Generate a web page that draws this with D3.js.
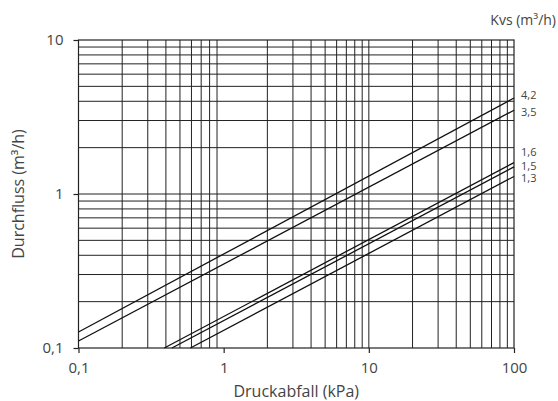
<!DOCTYPE html>
<html><head><meta charset="utf-8">
<script src="https://cdn.jsdelivr.net/npm/d3@7"></script>
<style>
html,body{margin:0;padding:0;background:#fff;}
text{font-family:"Open Sans","Noto Sans",sans-serif;fill:#444;}
</style></head>
<body>
<svg id="chart" width="558" height="401"></svg>
<script>
// Data (line endpoints on log-log axes)
const kvsLabels = ["4,2", "3,5", "1,6", "1,5", "1,3"];
const startDp = [0.1, 0.1, 0.39, 0.44, 0.59];   // kPa
const startQ  = [0.127, 0.111, 0.1, 0.1, 0.1];   // m³/h
const endDp   = [100, 100, 100, 100, 100];       // kPa
const endQ    = [4.2, 3.5, 1.6, 1.5, 1.3];       // m³/h
const labelQ  = [4.39, 3.41, 1.87, 1.52, 1.27];  // label anchor positions (m³/h)
const xTickValues = [0.1, 1, 10, 100];
const xTickLabels = ["0,1", "1", "10", "100"];
const yTickValues = [0.1, 1, 10];
const yTickLabels = ["0,1", "1", "10"];
const xGridValues = [0.2,0.3,0.4,0.5,0.6,0.7,0.8,0.9,2,3,4,5,6,7,8,9,10,20,30,40,50,60,70,80,90];
const yGridValues = [0.2,0.3,0.4,0.5,0.6,0.7,0.8,0.9,1,2,3,4,5,6,7,8,9];

const svg = d3.select("#chart");
const L = 78.5, R = 514, T = 40, B = 348;
const x = d3.scaleLog().domain([0.1, 100]).range([L, R]);
const y = d3.scaleLog().domain([0.1, 10]).range([B, T]);
const ink = "#222";
const font = "'Open Sans', 'Noto Sans', sans-serif";

const g = svg.append("g");
// grid
g.selectAll(".vg").data(xGridValues).join("line")
  .attr("x1", d => x(d)).attr("x2", d => x(d)).attr("y1", T).attr("y2", B)
  .attr("stroke", ink).attr("stroke-width", 1);
g.selectAll(".hg").data(yGridValues).join("line")
  .attr("x1", L).attr("x2", R).attr("y1", d => y(d)).attr("y2", d => y(d))
  .attr("stroke", ink).attr("stroke-width", 1);
// frame
g.append("rect").attr("x", L).attr("y", T).attr("width", R - L).attr("height", B - T)
  .attr("fill", "none").attr("stroke", ink).attr("stroke-width", 1.2);

// axes
const xAxis = d3.axisBottom(x).tickValues(xTickValues).tickFormat((d, i) => xTickLabels[i])
  .tickSize(5).tickPadding(9);
const yAxis = d3.axisLeft(y).tickValues(yTickValues).tickFormat((d, i) => yTickLabels[i])
  .tickSize(5).tickPadding(10);
const gx = svg.append("g").attr("transform", `translate(0,${B})`).call(xAxis);
const gy = svg.append("g").attr("transform", `translate(${L},0)`).call(yAxis);
[gx, gy].forEach(a => {
  a.select(".domain").remove();
  a.selectAll(".tick line").attr("stroke", ink).attr("stroke-width", 1.2);
  a.selectAll(".tick text").style("font-size", "15px").attr("fill", "#444")
    .style("font-family", font);
});

// Kvs lines
const idx = d3.range(kvsLabels.length);
svg.append("g").selectAll("line").data(idx).join("line")
  .attr("x1", i => x(startDp[i])).attr("y1", i => y(startQ[i]))
  .attr("x2", i => x(endDp[i])).attr("y2", i => y(endQ[i]))
  .attr("stroke", "#111").attr("stroke-width", 1.3);

// labels at right
svg.append("g").selectAll("text").data(idx).join("text")
  .attr("x", R + 7).attr("y", i => y(labelQ[i]))
  .attr("dy", "0.35em").style("font-size", "11px").text(i => kvsLabels[i]);

svg.append("text").attr("x", 556).attr("y", 20).attr("text-anchor", "end")
  .attr("dy", "0.35em").style("font-size", "14px").text("Kvs (m³/h)");

svg.append("text").attr("x", (L + R) / 2).attr("y", 391).attr("text-anchor", "middle")
  .attr("dy", "0.35em").style("font-size", "16px").text("Druckabfall (kPa)");

svg.append("text").attr("transform", `translate(18,${(T + B) / 2}) rotate(-90)`)
  .attr("text-anchor", "middle").attr("dy", "0.35em").style("font-size", "16px")
  .text("Durchfluss (m³/h)");
</script>
</body></html>
